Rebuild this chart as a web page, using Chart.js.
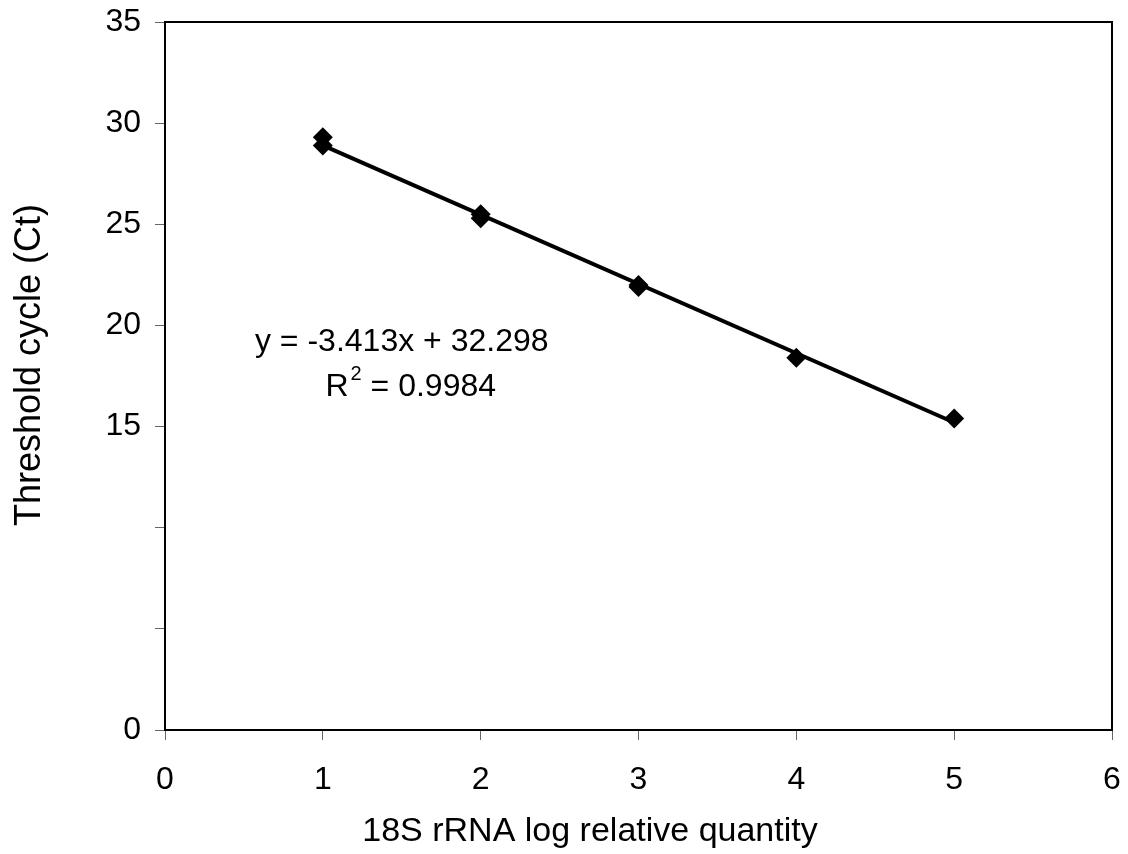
<!DOCTYPE html>
<html>
<head>
<meta charset="utf-8">
<script src="https://cdn.jsdelivr.net/npm/chart.js@4"></script>
<style>
  html, body { margin: 0; padding: 0; background: #fff; }
  #wrap { width: 1128px; height: 854px; }
</style>
</head>
<body>
<div id="wrap"><canvas id="chart" width="1128" height="854"></canvas></div>
<script>
// measured points (log quantity vs Ct)
const logQty = [1, 1, 2, 2, 3, 3, 4, 5];
const ctValues = [29.3, 28.9, 25.5, 25.3, 22.0, 21.9, 18.4, 15.4];

// trendline end points
const trendX = [1, 5];
const trendY = [28.9, 15.2];

// y tick labels (5 and 10 are left blank in the original)
const yTickValues = [0, 5, 10, 15, 20, 25, 30, 35];
const yTickLabels = ['0', '', '', '15', '20', '25', '30', '35'];

const xTitle = '18S rRNA log relative quantity';
const yTitle = 'Threshold cycle (Ct)';
const equationText = 'y = -3.413x + 32.298';
const r2Text = '0.9984';

const fontFamily = '"Liberation Sans", Arial, sans-serif';

// frame, axis titles and equation text
const extras = {
    id: 'extras',
    afterDraw(chart) {
        const ctx = chart.ctx;
        const a = chart.chartArea;
        ctx.save();
        ctx.strokeStyle = '#000';
        ctx.lineWidth = 2;
        ctx.strokeRect(a.left, a.top, a.right - a.left, a.bottom - a.top);

        ctx.fillStyle = '#000';
        ctx.textAlign = 'center';
        ctx.textBaseline = 'middle';

        // axis titles (sit a bit off-centre in the original)
        ctx.font = '34px ' + fontFamily;
        ctx.fillText(xTitle, 590, 832);
        ctx.save();
        ctx.translate(30, 365);
        ctx.rotate(-Math.PI / 2);
        ctx.font = '36px ' + fontFamily;
        ctx.fillText(yTitle, 0, 0);
        ctx.restore();

        const xs = chart.scales.x, ys = chart.scales.y;
        const cx = xs.getPixelForValue(1.50);
        ctx.font = '32px ' + fontFamily;
        ctx.fillText(equationText, cx, ys.getPixelForValue(19.15));

        // R^2 line with superscript
        const y2 = ys.getPixelForValue(16.95);
        const wR = ctx.measureText('R').width;
        ctx.font = '20px ' + fontFamily;
        const wSup = ctx.measureText('2').width;
        ctx.font = '32px ' + fontFamily;
        const rest = ' = ' + r2Text;
        const wRest = ctx.measureText(rest).width;
        const total = wR + wSup + wRest;
        const x0 = cx + 8 - total / 2;
        ctx.textAlign = 'left';
        ctx.fillText('R', x0, y2);
        ctx.font = '20px ' + fontFamily;
        ctx.fillText('2', x0 + wR + 2, y2 - 13);
        ctx.font = '32px ' + fontFamily;
        ctx.fillText(rest, x0 + wR + wSup + 2, y2);
        ctx.restore();
    }
};

new Chart(document.getElementById('chart').getContext('2d'), {
    type: 'scatter',
    data: {
        datasets: [
            {
                label: 'Trend',
                type: 'line',
                data: trendX.map((x, i) => ({ x: x, y: trendY[i] })),
                borderColor: '#000',
                borderWidth: 4,
                pointRadius: 0,
                fill: false,
                order: 2
            },
            {
                label: 'Ct',
                data: logQty.map((x, i) => ({ x: x, y: ctValues[i] })),
                pointStyle: 'rectRot',
                pointRadius: 10,
                pointHoverRadius: 10,
                backgroundColor: '#000',
                borderColor: '#000',
                borderWidth: 0,
                order: 1
            }
        ]
    },
    options: {
        responsive: false,
        animation: false,
        layout: { padding: { top: 22, right: 16, left: 0, bottom: 0 } },
        plugins: {
            legend: { display: false },
            tooltip: { enabled: false }
        },
        scales: {
            x: {
                type: 'linear',
                min: 0,
                max: 6,
                ticks: {
                    stepSize: 1,
                    color: '#000',
                    font: { family: fontFamily, size: 32 },
                    padding: 21
                },
                grid: {
                    drawOnChartArea: false,
                    drawTicks: true,
                    tickLength: 10,
                    color: '#666',
                    lineWidth: 1
                },
                border: { color: '#000', width: 2 },
                title: { display: false },
                afterFit(scale) {
                    scale.height = 124;
                    scale.paddingLeft = 0;
                    scale.paddingRight = 0;
                }
            },
            y: {
                min: 0,
                max: 35,
                afterBuildTicks(scale) {
                    scale.ticks = yTickValues.map(v => ({ value: v }));
                },
                ticks: {
                    color: '#000',
                    font: { family: fontFamily, size: 32 },
                    padding: 14,
                    callback: (v) => yTickLabels[yTickValues.indexOf(v)]
                },
                grid: {
                    drawOnChartArea: false,
                    drawTicks: true,
                    tickLength: 10,
                    color: '#666',
                    lineWidth: 1
                },
                border: { color: '#000', width: 2 },
                title: { display: false },
                afterFit(scale) {
                    scale.width = 165;
                    scale.paddingTop = 0;
                    scale.paddingBottom = 0;
                }
            }
        }
    },
    plugins: [extras]
});
</script>
</body>
</html>
